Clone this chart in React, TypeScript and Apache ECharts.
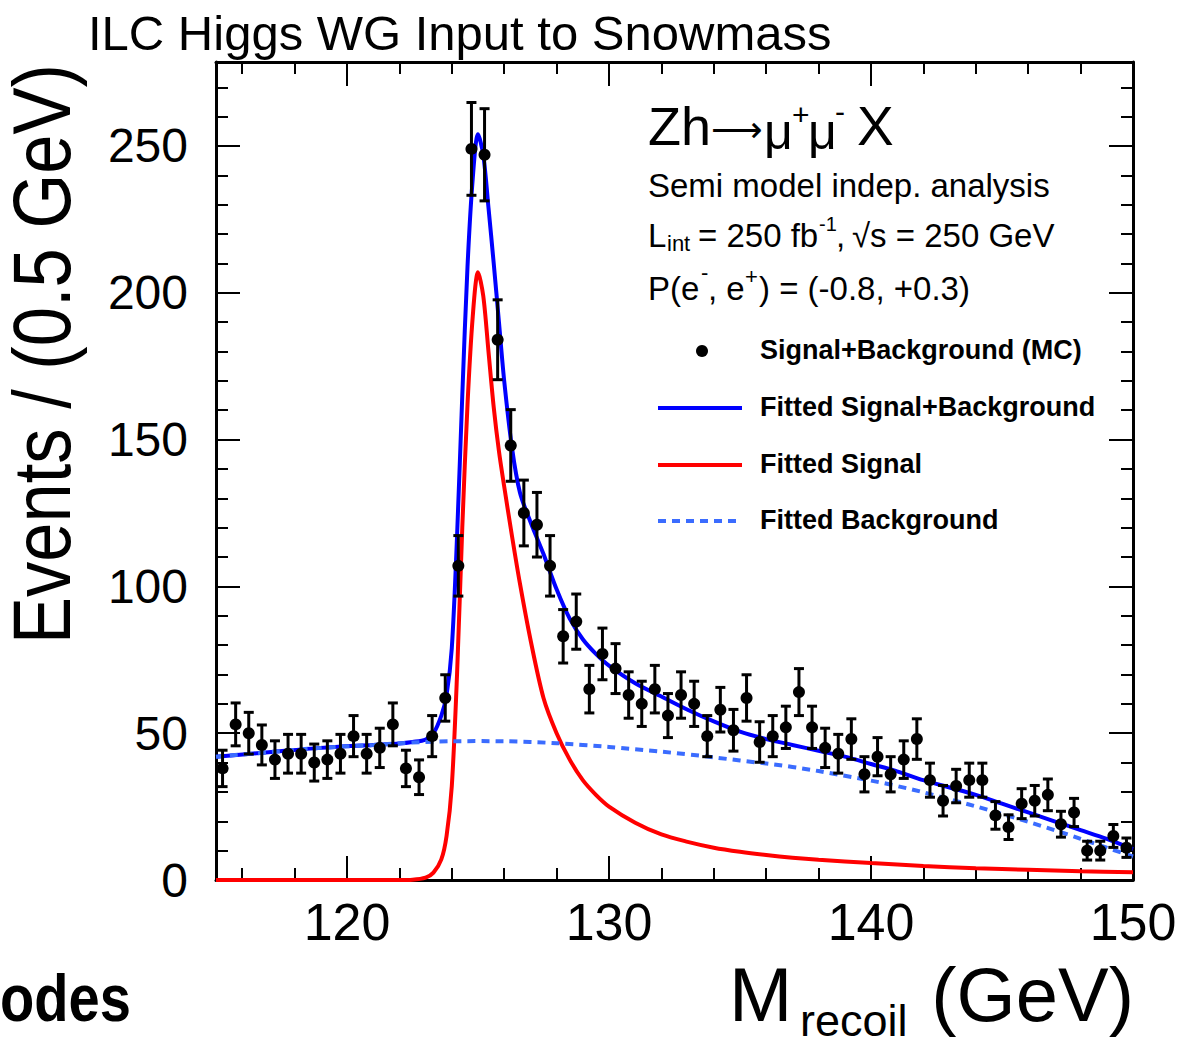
import React, { useEffect, useRef } from "react";
import * as echarts from "echarts";

// ---- Data ----
const massBins = [
  115.25, 115.75, 116.25, 116.75, 117.25, 117.75, 118.25, 118.75, 119.25, 119.75,
  120.25, 120.75, 121.25, 121.75, 122.25, 122.75, 123.25, 123.75, 124.25, 124.75,
  125.25, 125.75, 126.25, 126.75, 127.25, 127.75, 128.25, 128.75, 129.25, 129.75,
  130.25, 130.75, 131.25, 131.75, 132.25, 132.75, 133.25, 133.75, 134.25, 134.75,
  135.25, 135.75, 136.25, 136.75, 137.25, 137.75, 138.25, 138.75, 139.25, 139.75,
  140.25, 140.75, 141.25, 141.75, 142.25, 142.75, 143.25, 143.75, 144.25, 144.75,
  145.25, 145.75, 146.25, 146.75, 147.25, 147.75, 148.25, 148.75, 149.25, 149.75,
];
const events = [
  38, 53, 50, 46, 41, 43, 43, 40, 41, 43,
  49, 43, 45, 53, 38, 35, 49, 62, 107, 249,
  247, 184, 148, 125, 121, 107, 83, 88, 65, 77,
  72, 63, 60, 65, 56, 63, 60, 49, 58, 51,
  62, 47, 49, 52, 64, 52, 45, 43, 48, 36,
  42, 36, 41, 48, 34, 27, 32, 34, 34, 22,
  18, 26, 27, 29, 19, 23, 10, 10, 15, 11,
];
const eventErrors = [
  6.2, 7.3, 7.1, 6.8, 6.4, 6.6, 6.6, 6.3, 6.4, 6.6,
  7.0, 6.6, 6.7, 7.3, 6.2, 5.9, 7.0, 7.9, 10.3, 15.8,
  15.7, 13.6, 12.2, 11.2, 11.0, 10.3, 9.1, 9.4, 8.1, 8.8,
  8.5, 7.9, 7.7, 8.1, 7.5, 7.9, 7.7, 7.0, 7.6, 7.1,
  7.9, 6.9, 7.0, 7.2, 8.0, 7.2, 6.7, 6.6, 6.9, 6.0,
  6.5, 6.0, 6.4, 6.9, 5.8, 5.2, 5.7, 5.8, 5.8, 4.7,
  4.2, 5.1, 5.2, 5.4, 4.4, 4.8, 3.2, 3.2, 3.9, 3.3,
];

const totalMass = [
  115, 117, 119, 121, 122, 122.5, 123, 123.3, 123.6, 123.8,
  124, 124.2, 124.4, 124.6, 124.8, 125, 125.2, 125.4, 125.6, 125.8,
  126, 126.3, 126.6, 127, 127.5, 128, 128.5, 129, 129.5, 130,
  131, 132, 133, 134, 135, 136, 137, 138, 139, 140,
  141, 142, 143, 144, 145, 146, 147, 148, 149, 150,
];
const totalFit = [
  42, 43.5, 45, 46, 46.5, 47, 47.8, 50, 56, 63,
  79, 117, 165, 209, 239, 254, 247, 229, 210, 190,
  170, 147, 132, 122, 111, 99, 89, 82, 77, 73,
  67, 62.5, 58, 54, 50.5, 48, 46, 44, 42, 39.5,
  37, 34, 31.5, 29, 26, 23, 20, 17, 14, 10.5,
];

const signalMass = [
  115, 117, 119, 121, 122, 122.5, 123, 123.3, 123.6, 123.8,
  124, 124.2, 124.4, 124.6, 124.8, 125, 125.2, 125.4, 125.6, 125.8,
  126, 126.3, 126.6, 127, 127.5, 128, 128.5, 129, 129.5, 130,
  131, 132, 133, 134, 135, 136, 137, 138, 140, 142,
  144, 146, 148, 150,
];
const signalFit = [
  0, 0, 0, 0, 0, 0.1, 0.8, 2.5, 7, 15,
  32, 70, 120, 162, 192, 207, 199, 180, 161, 146,
  134, 117, 101, 82, 62, 50, 41, 34, 29, 25,
  19.5, 15.5, 13, 11, 9.6, 8.5, 7.6, 6.9, 5.8, 4.8,
  4.0, 3.5, 3.0, 2.6,
];

const bgMass = [115, 117, 119, 121, 123, 125, 127, 129, 131, 133, 135, 137, 139, 141, 143, 145, 147, 149, 150];
const bgFit = [42, 43.5, 45, 46, 47, 47.3, 47, 46, 44.5, 42.8, 40.7, 38.5, 35.5, 32, 27.5, 22.5, 17, 11, 8];

const xMajorTicks = [120, 130, 140, 150];
const xMinorTicks = [116, 118, 122, 124, 126, 128, 132, 134, 136, 138, 142, 144, 146, 148];
const yMajorTicks = [0, 50, 100, 150, 200, 250];
const yMinorTicks = [10, 20, 30, 40, 60, 70, 80, 90, 110, 120, 130, 140, 160, 170, 180, 190, 210, 220, 230, 240, 260, 270];

const legendLabels = [
  "Signal+Background (MC)",
  "Fitted Signal+Background",
  "Fitted Signal",
  "Fitted Background",
];

const FONT = "'Liberation Sans', Arial, Helvetica, sans-serif";

function pairs(xs: number[], ys: number[]) {
  return xs.map((x, i) => [x, ys[i]]);
}

function txt(text: string, x: number, y: number, size: number, opts: any = {}) {
  const align = opts.align || "left";
  const valign = opts.valign || "middle";
  return {
    type: "text",
    x,
    y,
    rotation: opts.rotation || 0,
    scaleX: opts.scaleX || 1,
    scaleY: opts.scaleY || 1,
    z: 100,
    style: {
      text,
      fill: "#000",
      fontSize: size,
      fontFamily: opts.family || FONT,
      fontWeight: opts.weight || "normal",
      align,
      verticalAlign: valign,
      textAlign: align,
      textVerticalAlign: valign,
    },
  };
}

export default function App() {
  const ref = useRef<HTMLDivElement>(null);

  useEffect(() => {
    const chart = echarts.init(ref.current!, null, { renderer: "svg" });
    const X_MIN = 115;
    const X_MAX = 150;
    const Y_MIN = 0;
    const Y_MAX = 278.6;

    const mkX = (position: string, ticks: number[], len: number, showLine: boolean, showLabel: boolean) => ({
      type: "value",
      min: X_MIN,
      max: X_MAX,
      position,
      axisLine: { show: showLine, onZero: false, lineStyle: { color: "#000", width: 3 } },
      axisTick: { show: true, inside: true, length: len, customValues: ticks, lineStyle: { color: "#000", width: 2 } },
      axisLabel: {
        show: showLabel,
        customValues: xMajorTicks,
        color: "#000",
        fontSize: 52,
        fontFamily: FONT,
        margin: 16,
      },
      splitLine: { show: false },
      minorTick: { show: false },
    });
    const mkY = (position: string, ticks: number[], len: number, showLine: boolean, showLabel: boolean) => ({
      type: "value",
      min: Y_MIN,
      max: Y_MAX,
      position,
      axisLine: { show: showLine, onZero: false, lineStyle: { color: "#000", width: 3 } },
      axisTick: { show: true, inside: true, length: len, customValues: ticks, lineStyle: { color: "#000", width: 2 } },
      axisLabel: {
        show: showLabel,
        customValues: yMajorTicks,
        color: "#000",
        fontSize: 48,
        fontFamily: FONT,
        margin: 28,
      },
      splitLine: { show: false },
      minorTick: { show: false },
    });

    const pointData = massBins.map((m, i) => [m, events[i], eventErrors[i]]);

    const legendX1 = 658;
    const legendX2 = 742;
    const legendTextX = 760;
    const legendY = [351, 408, 465, 521];

    const graphic: any[] = [
      txt("ILC Higgs WG Input to Snowmass", 88, 33, 49),
      txt("Events / (0.5 GeV)", 42, 354, 82, { align: "center", rotation: Math.PI / 2, scaleX: 0.86 }),
      txt("M", 729, 994, 76),
      txt("recoil", 800, 1020, 45),
      txt("(GeV)", 1134, 994, 76, { align: "right" }),
      txt("odes", 0, 998, 66, { weight: "bold", scaleX: 0.85 }),
      // process label
      txt("Zh", 648, 126, 54),
      txt("\u27f6", 711, 129, 36, { family: "'DejaVu Sans', sans-serif" }),
      txt("\u03bc", 764, 132, 50),
      txt("+", 792, 114, 30),
      txt("\u03bc", 808, 132, 50),
      txt("-", 835, 111, 30),
      txt("X", 857, 126, 55),
      txt("Semi model indep. analysis", 648, 185, 33),
      txt("L", 648, 235, 33),
      txt("int", 667, 243, 22),
      txt("= 250 fb", 698, 235, 33),
      txt("-1", 819, 224, 20),
      txt(",", 836, 235, 33),
      txt("\u221as = 250 GeV", 852, 235, 33),
      txt("P(e", 648, 288, 33),
      txt("-", 701, 272, 22),
      txt(", e", 708, 288, 33),
      txt("+", 745, 276, 22),
      txt(") = (-0.8, +0.3)", 759, 288, 33),
      // legend
      { type: "circle", z: 100, shape: { cx: 702, cy: legendY[0], r: 6 }, style: { fill: "#000" } },
      { type: "line", z: 100, shape: { x1: legendX1, y1: legendY[1], x2: legendX2, y2: legendY[1] }, style: { stroke: "#0000ff", lineWidth: 4 } },
      { type: "line", z: 100, shape: { x1: legendX1, y1: legendY[2], x2: legendX2, y2: legendY[2] }, style: { stroke: "#ff0000", lineWidth: 4 } },
      { type: "line", z: 100, shape: { x1: legendX1, y1: legendY[3], x2: legendX2, y2: legendY[3] }, style: { stroke: "#3b6cff", lineWidth: 4, lineDash: [8, 6] } },
      ...legendLabels.map((l, i) => txt(l, legendTextX, legendY[i] - 1, 27, { weight: "bold" })),
    ];

    chart.setOption({
      animation: false,
      backgroundColor: "#ffffff",
      grid: { left: 216, right: 56, top: 62, bottom: 165, containLabel: false, show: false },
      xAxis: [
        mkX("bottom", xMajorTicks, 24, true, true),
        mkX("bottom", xMinorTicks, 12, false, false),
        mkX("top", xMajorTicks, 24, true, false),
        mkX("top", xMinorTicks, 12, false, false),
      ],
      yAxis: [
        mkY("left", yMajorTicks, 24, true, true),
        mkY("left", yMinorTicks, 12, false, false),
        mkY("right", yMajorTicks, 24, true, false),
        mkY("right", yMinorTicks, 12, false, false),
      ],
      graphic,
      series: [
        {
          name: "Fitted Signal+Background",
          type: "line",
          xAxisIndex: 0,
          yAxisIndex: 0,
          data: pairs(totalMass, totalFit),
          smooth: 0.3,
          showSymbol: false,
          clip: false,
          z: 3,
          lineStyle: { color: "#0000ff", width: 4 },
        },
        {
          name: "Fitted Signal",
          type: "line",
          xAxisIndex: 0,
          yAxisIndex: 0,
          data: pairs(signalMass, signalFit),
          smooth: 0.3,
          showSymbol: false,
          clip: false,
          z: 4,
          lineStyle: { color: "#ff0000", width: 4 },
        },
        {
          name: "Fitted Background",
          type: "line",
          xAxisIndex: 0,
          yAxisIndex: 0,
          data: pairs(bgMass, bgFit),
          smooth: 0.4,
          showSymbol: false,
          clip: false,
          z: 5,
          lineStyle: { color: "#3b6cff", width: 4, type: [8, 6] },
        },
        {
          name: "Signal+Background (MC)",
          type: "custom",
          xAxisIndex: 0,
          yAxisIndex: 0,
          data: pointData,
          clip: false,
          z: 6,
          encode: { x: 0, y: 1 },
          renderItem: (params: any, api: any) => {
            const x = api.value(0);
            const y = api.value(1);
            const e = api.value(2);
            const c = api.coord([x, y]);
            const t = api.coord([x, y + e]);
            const b = api.coord([x, y - e]);
            const cap = 5;
            const st = { stroke: "#000", lineWidth: 3 };
            return {
              type: "group",
              children: [
                { type: "line", shape: { x1: c[0], y1: t[1], x2: c[0], y2: b[1] }, style: st },
                { type: "line", shape: { x1: c[0] - cap, y1: t[1], x2: c[0] + cap, y2: t[1] }, style: st },
                { type: "line", shape: { x1: c[0] - cap, y1: b[1], x2: c[0] + cap, y2: b[1] }, style: st },
                { type: "circle", shape: { cx: c[0], cy: c[1], r: 6 }, style: { fill: "#000" } },
              ],
            };
          },
        },
      ],
    });

    return () => {
      chart.dispose();
    };
  }, []);

  return (
    <div
      ref={ref}
      style={{ position: "absolute", left: 0, top: 0, width: 1189, height: 1045, background: "#fff" }}
    />
  );
}
